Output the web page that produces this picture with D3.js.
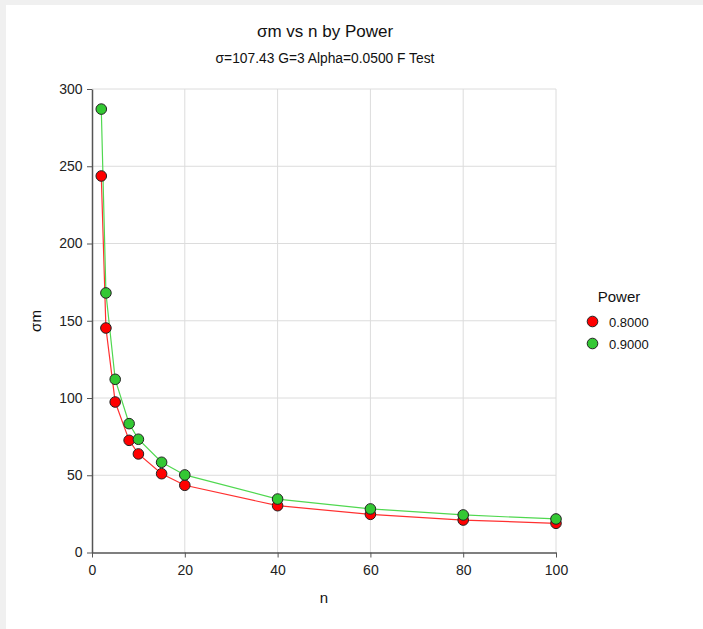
<!DOCTYPE html>
<html><head><meta charset="utf-8">
<script src="https://cdn.jsdelivr.net/npm/d3@7"></script>
<style>body{margin:0;background:#fff;}svg{display:block;font-family:"Liberation Sans",Arial,sans-serif;}</style>
</head><body>
<svg id="c" width="703" height="629"></svg>
<script>
const nValues = [2, 3, 5, 8, 10, 15, 20, 40, 60, 80, 100];
const power080 = [243.7, 145.3, 97.4, 72.6, 63.8, 51.0, 43.5, 30.3, 24.7, 21.0, 18.9];
const power090 = [287.0, 168.0, 112.1, 83.4, 73.3, 58.4, 50.2, 34.6, 28.2, 24.3, 21.7];
const seriesNames = ["0.8000", "0.9000"];
const seriesColors = ["#ff0000", "#33c833"];
const lineColors = ["#ff3030", "#50d850"];
const xTicks = [0, 20, 40, 60, 80, 100];
const yTicks = [0, 50, 100, 150, 200, 250, 300];

const svg = d3.select("#c");
svg.append("rect").attr("x",0).attr("y",0).attr("width",703).attr("height",5).attr("fill","#f0f0f0");
svg.append("rect").attr("x",0).attr("y",0).attr("width",6).attr("height",629).attr("fill","#f0f0f0");

const x = d3.scaleLinear().domain([0,100]).range([92,556]);
const y = d3.scaleLinear().domain([0,300]).range([552.5,89]);

// grid
svg.append("g").selectAll("line").data(xTicks.slice(1)).join("line")
  .attr("x1",d=>x(d)).attr("x2",d=>x(d)).attr("y1",y(300)).attr("y2",y(0))
  .attr("stroke","#dcdcdc").attr("stroke-width",1);
svg.append("g").selectAll("line").data(yTicks.slice(1)).join("line")
  .attr("x1",x(0)).attr("x2",x(100)).attr("y1",d=>y(d)).attr("y2",d=>y(d))
  .attr("stroke","#dcdcdc").attr("stroke-width",1);

// axes
const xAxis = svg.append("g").attr("transform",`translate(0,${y(0)})`)
  .call(d3.axisBottom(x).tickValues(xTicks).tickSize(5).tickSizeOuter(0));
const yAxis = svg.append("g").attr("transform",`translate(${x(0)},0)`)
  .call(d3.axisLeft(y).tickValues(yTicks).tickSize(5).tickSizeOuter(0));
[xAxis,yAxis].forEach(a=>{
  a.select(".domain").attr("stroke","#555").attr("stroke-width",1.5);
  a.selectAll(".tick line").attr("stroke","#555");
  a.selectAll("text").attr("font-family","Liberation Sans, Arial, sans-serif").attr("font-size",14).attr("fill","#222");
});
xAxis.selectAll("text").attr("dy","1.05em");
yAxis.selectAll("text").attr("dx","-0.1em");

// lines
const data = [power080, power090];
const line = d3.line().x((d,i)=>x(nValues[i])).y(d=>y(d));
data.forEach((s,k)=>{
  svg.append("path").datum(s).attr("d",line).attr("fill","none")
    .attr("stroke",lineColors[k]).attr("stroke-width",1.2);
});
data.forEach((s,k)=>{
  svg.append("g").selectAll("circle").data(s).join("circle")
    .attr("cx",(d,i)=>x(nValues[i])).attr("cy",d=>y(d)).attr("r",5.3)
    .attr("fill",seriesColors[k]).attr("stroke","#222").attr("stroke-width",1);
});

// titles
svg.append("text").attr("x",325).attr("y",37).attr("text-anchor","middle")
  .attr("font-size",17).attr("fill","#111").text("σm vs n by Power");
svg.append("text").attr("x",325).attr("y",63).attr("text-anchor","middle")
  .attr("font-size",13.8).attr("fill","#111").text("σ=107.43 G=3 Alpha=0.0500 F Test");
svg.append("text").attr("x",324).attr("y",603).attr("text-anchor","middle")
  .attr("font-size",15).attr("fill","#111").text("n");
svg.append("text").attr("transform","translate(41,321) rotate(-90)").attr("text-anchor","middle")
  .attr("font-size",15).attr("fill","#111").text("σm");

// legend
svg.append("text").attr("x",619).attr("y",302).attr("text-anchor","middle")
  .attr("font-size",15).attr("fill","#111").text("Power");
seriesNames.forEach((nm,k)=>{
  svg.append("circle").attr("cx",592.5).attr("cy",321.5+k*22).attr("r",5.3)
    .attr("fill",seriesColors[k]).attr("stroke","#222").attr("stroke-width",1);
  svg.append("text").attr("x",609).attr("y",326.5+k*22)
    .attr("font-size",13).attr("fill","#111").text(nm);
});
</script>
</body></html>
